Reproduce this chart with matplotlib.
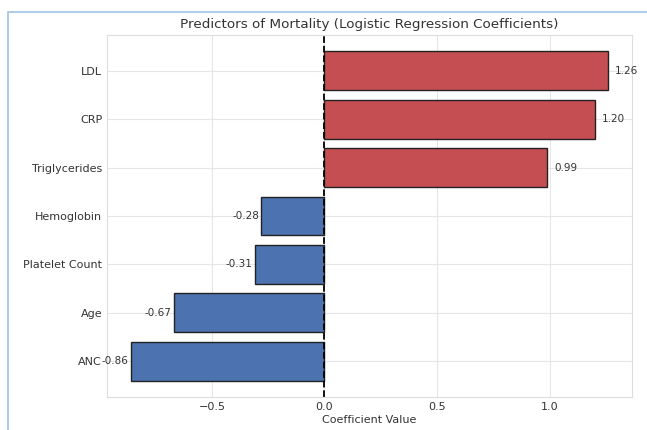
import matplotlib
matplotlib.use("Agg")
import matplotlib.pyplot as plt
from matplotlib.patches import Rectangle

# coefficients, bottom to top
predictors = ["ANC", "Age", "Platelet Count", "Hemoglobin", "Triglycerides", "CRP", "LDL"]
coefs = [-0.86, -0.67, -0.31, -0.28, 0.99, 1.20, 1.26]

plt.style.use("seaborn-v0_8-whitegrid")
plt.rcParams['font.family'] = ['DejaVu Sans']

fig = plt.figure(figsize=(6.47, 4.3), dpi=100)
ax = fig.add_axes([0.1654, 0.0767, 0.8114, 0.8419])

colors = ['#c44e52' if c > 0 else '#4c72b0' for c in coefs]
bars = ax.barh(predictors, coefs, color=colors, edgecolor='#222222', linewidth=1.0, height=0.8)
ax.axvline(0, color='black', linestyle='--', linewidth=1.3)

for b, c in zip(bars, coefs):
    y = b.get_y() + b.get_height() / 2
    if c > 0:
        ax.text(c + 0.03, y, f"{c:.2f}", ha='left', va='center', fontsize=7.5, color='#333333')
    else:
        ax.text(c - 0.01, y, f"{c:.2f}", ha='right', va='center', fontsize=7.5, color='#333333')

ax.set_title("Predictors of Mortality (Logistic Regression Coefficients)", fontsize=9.7, color='#333333', pad=5)
ax.set_xlabel("Coefficient Value", fontsize=8, color='#333333', labelpad=2)
ax.tick_params(axis='both', labelsize=8, colors='#333333', length=0)
ax.grid(True, color='#e6e6e6', linewidth=0.8)
ax.set_axisbelow(True)
for s in ax.spines.values():
    s.set_color('#dddddd')
    s.set_linewidth(0.8)

# light blue frame from the screenshot
fig.patches.append(Rectangle((8 / 647, -0.05), 1.2, 1 - 12 / 430 + 0.05, transform=fig.transFigure,
                             fill=False, edgecolor='#9dc3e6', linewidth=1.2, figure=fig))

fig.savefig("out.png", dpi=100)
